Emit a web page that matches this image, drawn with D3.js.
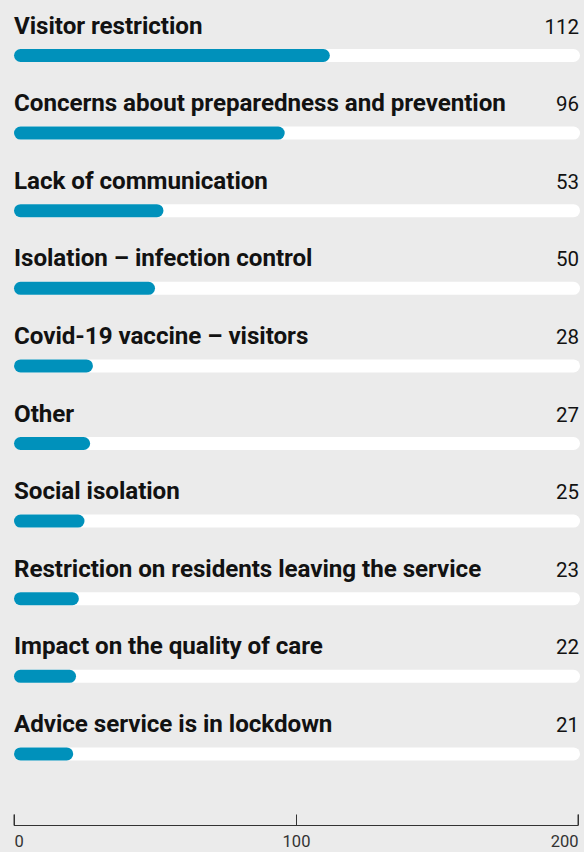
<!DOCTYPE html>
<html>
<head>
<meta charset="utf-8">
<script src="https://cdn.jsdelivr.net/npm/d3@7"></script>
<style>
  html, body { margin: 0; padding: 0; background: #ebebeb; }
  svg { display: block; }
  .label { font-family: Roboto, "Noto Sans", sans-serif; font-weight: 700; font-size: 24.2px; letter-spacing: -0.05px; fill: #121212; }
  .value { font-family: Roboto, "Noto Sans", sans-serif; font-weight: 400; font-size: 20.5px; fill: #121212; }
  .axis text { font-family: Roboto, "Noto Sans", sans-serif; font-size: 16.5px; fill: #333; }
  .axis path, .axis line { stroke: #333; stroke-width: 1; }
</style>
</head>
<body>
<svg id="chart" width="584" height="852"></svg>
<script>
// Complaint categories and number of complaints
const categories = [
  "Visitor restriction",
  "Concerns about preparedness and prevention",
  "Lack of communication",
  "Isolation – infection control",
  "Covid-19 vaccine – visitors",
  "Other",
  "Social isolation",
  "Restriction on residents leaving the service",
  "Impact on the quality of care",
  "Advice service is in lockdown"
];
const counts = [112, 96, 53, 50, 28, 27, 25, 23, 22, 21];
const axisTicks = [0, 100, 200];
const axisMax = 200;

const width = 584, height = 852;
const svg = d3.select("#chart");

const x = d3.scaleLinear().domain([0, axisMax]).range([14, 578]);
const y = d3.scaleBand().domain(categories).range([49, 49 + 77.6 * categories.length]).paddingInner(0);

const barH = 13;
const rows = svg.selectAll("g.row")
  .data(categories.map((c, i) => ({ cat: c, val: counts[i] })))
  .join("g")
  .attr("class", "row")
  .attr("transform", d => `translate(0,${y(d.cat)})`);

// white track spanning the full scale
rows.append("rect")
  .attr("x", x(0))
  .attr("y", 0)
  .attr("width", x(axisMax) - x(0) + 2)
  .attr("height", barH)
  .attr("rx", barH / 2)
  .attr("fill", "#ffffff");

// value bar
rows.append("rect")
  .attr("x", x(0))
  .attr("y", 0)
  .attr("width", d => x(d.val) - x(0))
  .attr("height", barH)
  .attr("rx", barH / 2)
  .attr("fill", "#0091bb");

rows.append("text")
  .attr("class", "label")
  .attr("x", x(0))
  .attr("y", -15.5)
  .text(d => d.cat);

rows.append("text")
  .attr("class", "value")
  .attr("x", 579)
  .attr("y", -15.5)
  .attr("text-anchor", "end")
  .text(d => d.val);

// bottom axis with upward ticks
const axisG = svg.append("g")
  .attr("class", "axis")
  .attr("transform", "translate(0,825.5)")
  .call(d3.axisBottom(x).tickValues(axisTicks).tickSize(-11).tickSizeOuter(-11).tickPadding(0));

axisG.select(".domain").attr("d", `M${x(0)},-11V0H${x(axisMax)}V-11`);
axisG.selectAll(".tick text")
  .attr("y", 21.5)
  .attr("dy", 0)
  .attr("text-anchor", (d, i) => i === 0 ? "start" : (i === axisTicks.length - 1 ? "end" : "middle"));
</script>
</body>
</html>
